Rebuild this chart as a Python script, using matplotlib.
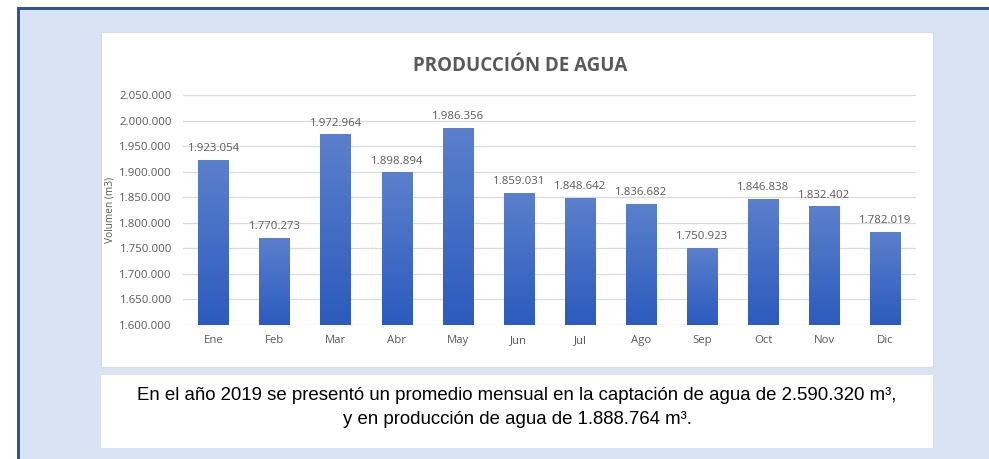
import numpy as np
import matplotlib.pyplot as plt
from matplotlib.patches import Rectangle
from matplotlib.colors import LinearSegmentedColormap

meses = ['Ene', 'Feb', 'Mar', 'Abr', 'May', 'Jun', 'Jul', 'Ago', 'Sep', 'Oct', 'Nov', 'Dic']
volumen = [1923054, 1770273, 1972964, 1898894, 1986356, 1859031,
           1848642, 1836682, 1750923, 1846838, 1832402, 1782019]
yticks = [1600000, 1650000, 1700000, 1750000, 1800000, 1850000,
          1900000, 1950000, 2000000, 2050000]


def miles(v):
    return f'{v:,.0f}'.replace(',', '.')


W, H = 989, 459
fig = plt.figure(figsize=(W / 100, H / 100), dpi=100, facecolor='white')


def px(x0, y0, x1, y1):
    # pixel box (top-left origin) -> figure fractions
    return (x0 / W, 1 - y1 / H, (x1 - x0) / W, (y1 - y0) / H)


# fondo azul claro con borde azul oscuro
l, b, w, h = px(17, 7, 989, 459)
fig.patches.append(Rectangle((l, b), w, h, transform=fig.transFigure,
                             facecolor='#dae3f3', edgecolor='none', zorder=0))
l, b, w, h = px(17, 7, 989, 10)
fig.patches.append(Rectangle((l, b), w, h, transform=fig.transFigure,
                             facecolor='#2f5597', edgecolor='none', zorder=1))
l, b, w, h = px(17, 7, 20, 459)
fig.patches.append(Rectangle((l, b), w, h, transform=fig.transFigure,
                             facecolor='#2f5597', edgecolor='none', zorder=1))

# panel del grafico y caja de texto
l, b, w, h = px(101, 32, 933, 367)
fig.patches.append(Rectangle((l, b), w, h, transform=fig.transFigure,
                             facecolor='white', edgecolor='#d9d9d9', lw=0.8, zorder=2))
l, b, w, h = px(101, 375, 933, 448)
fig.patches.append(Rectangle((l, b), w, h, transform=fig.transFigure,
                             facecolor='white', edgecolor='none', zorder=2))

ax = fig.add_axes(px(183, 95, 916, 325))
ax.set_facecolor('none')
ax.set_zorder(3)

x = np.arange(len(meses))
bars = ax.bar(x, volumen, width=0.5, color='#4472c4', zorder=2)

cmap = LinearSegmentedColormap.from_list('grad', ['#2c5bbe', '#5b80cc'])
grad = np.linspace(0, 1, 256).reshape(-1, 1)
for bar in bars:
    bx, bw, bh = bar.get_x(), bar.get_width(), bar.get_height()
    im = ax.imshow(grad, cmap=cmap, origin='lower', aspect='auto',
                   extent=(bx, bx + bw, yticks[0], bh), zorder=2.5)
    im.set_clip_path(bar)

fs = 8.2
for xi, v in zip(x, volumen):
    ax.annotate(miles(v), (xi, v), xytext=(0, 4), textcoords='offset points',
                ha='center', va='bottom', fontsize=fs, color='#595959',
                family='Open Sans')

ax.set_xlim(-0.5, len(meses) - 0.5)
ax.set_ylim(yticks[0], yticks[-1])
ax.set_yticks(yticks)
ax.set_yticklabels([miles(t) for t in yticks], fontsize=fs, color='#595959',
                   family='Open Sans')
ax.set_xticks(x)
ax.set_xticklabels(meses, fontsize=fs, color='#595959', family='Open Sans')
ax.tick_params(length=0, pad=7)
ax.tick_params(axis='y', pad=8)
ax.grid(axis='y', color='#d9d9d9', lw=0.9, zorder=0)
ax.set_axisbelow(True)
for s in ax.spines.values():
    s.set_visible(False)

ax.set_ylabel('Volumen (m3)', fontsize=7.3, color='#595959', family='Open Sans')
ax.yaxis.set_label_coords((116 - 183) / 733, 0.5)

fig.text(520 / W, 1 - 66 / H, 'PRODUCCIÓN DE AGUA', ha='center', va='center',
         fontsize=13.5, fontweight='bold', color='#595959', family='Open Sans',
         zorder=4)

fig.text(517 / W, 1 - 396 / H,
         'En el año 2019 se presentó un promedio mensual en la captación de agua de 2.590.320 m³,',
         ha='center', va='center', fontsize=13.4, color='black',
         family='Liberation Sans', zorder=4)
fig.text(517 / W, 1 - 419 / H, 'y en producción de agua de 1.888.764 m³.',
         ha='center', va='center', fontsize=13.4, color='black',
         family='Liberation Sans', zorder=4)

fig.savefig('out.png', dpi=100, facecolor=fig.get_facecolor())
